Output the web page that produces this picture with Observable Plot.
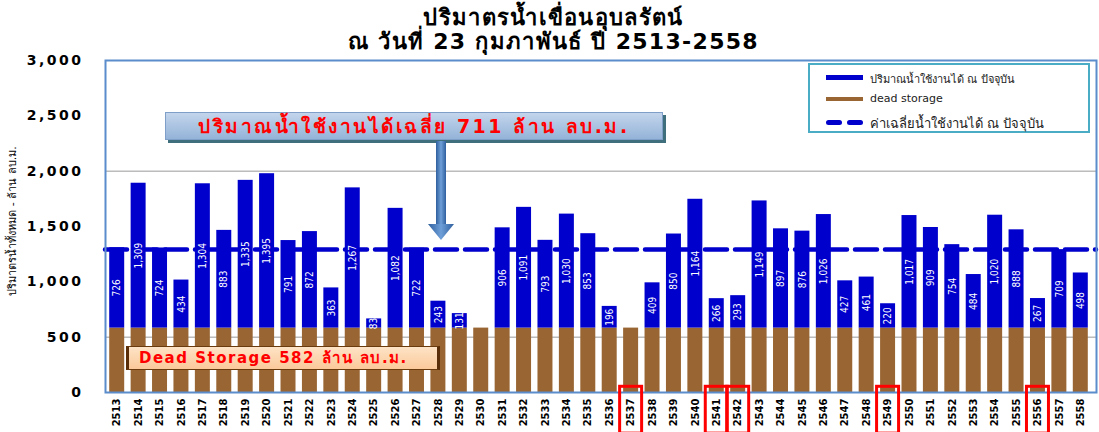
<!DOCTYPE html>
<html>
<head>
<meta charset="utf-8">
<script src="https://cdn.jsdelivr.net/npm/d3@7"></script>
<script src="https://cdn.jsdelivr.net/npm/@observablehq/plot@0.6"></script>
<style>
  body { margin: 0; background: #fff; }
  #wrap { position: relative; width: 1099px; height: 432px; overflow: hidden; font-family: "DejaVu Sans", "Noto Sans", sans-serif; }
  #title { height: 55px; text-align: center; font-weight: bold; font-size: 22px; line-height: 24px; letter-spacing: 1.3px; padding-top: 6px; padding-left: 8px; box-sizing: border-box; color: #000; }
  #chart svg { display: block; overflow: visible; }
  #chart g[aria-label="y-axis tick label"] text { letter-spacing: 2.5px; }
  .ov { position: absolute; }
  #ylabel { left: -78px; top: 212px; width: 180px; text-align: center; font-size: 11px; transform: rotate(-90deg); color: #000; }
  #avgBox { left: 165px; top: 112px; width: 498px; height: 28px; box-sizing: border-box;
            background: linear-gradient(#c3d5ec, #94b3d8); border: 1px solid #7f9fc8;
            box-shadow: 3px 3px 0 #3f6f7c; color: #ff0000; font-weight: bold; font-size: 19px;
            letter-spacing: 2.5px; line-height: 26px; text-align: center; white-space: nowrap; }
  #deadBox { left: 126px; top: 346px; width: 314px; height: 24px; box-sizing: border-box;
             background: linear-gradient(#fde3c6, #fbc99a); border: 1px solid #6b3b10;
             border-left: 3px solid #5a2e08; border-right: 3px solid #5a2e08;
             color: #ff0000; font-weight: bold; font-size: 15px; letter-spacing: 1.5px; line-height: 22px; padding-left: 10px; white-space: nowrap; }
  #legend { left: 808px; top: 63px; width: 282px; height: 70px; box-sizing: border-box;
            border: 2px solid #4bacc6; background: #fff; }
  .lg { position: absolute; left: 60px; font-size: 11px; color: #222; white-space: nowrap; }
  .sw { position: absolute; left: 16px; width: 37px; }
</style>
</head>
<body>
<div id="wrap">
  <div id="title">ปริมาตรน้ำเขื่อนอุบลรัตน์<br>ณ วันที่ 23 กุมภาพันธ์ ปี 2513-2558</div>
  <div id="chart"></div>
  <div class="ov" id="ylabel">ปริมาตรน้ำทั้งหมด - ล้าน ลบ.ม.</div>
  <div class="ov" id="avgBox">ปริมาณน้ำใช้งานได้เฉลี่ย 711 ล้าน ลบ.ม.</div>
  <svg class="ov" style="left:0;top:0" width="1099" height="432">
    <defs>
      <linearGradient id="ag" x1="0" x2="1" y1="0" y2="0">
        <stop offset="0" stop-color="#2f5f9e"/>
        <stop offset="0.5" stop-color="#6f9fd8"/>
        <stop offset="1" stop-color="#2f5f9e"/>
      </linearGradient>
    </defs>
    <rect x="436" y="141" width="10" height="84" fill="url(#ag)"/>
    <polygon points="428,224 454,224 441,240" fill="url(#ag)"/>
  </svg>
  <div class="ov" id="deadBox">Dead Storage 582 ล้าน ลบ.ม.</div>
  <div class="ov" id="legend">
    <div class="sw" style="top:10px;height:5px;background:#0000cc"></div>
    <div class="lg" style="top:5px">ปริมาณน้ำใช้งานได้ ณ ปัจจุบัน</div>
    <div class="sw" style="top:32px;height:4px;background:#996633"></div>
    <div class="lg" style="top:27px">dead storage</div>
    <div class="sw" style="top:55px;height:5px;width:16px;border-radius:3px;background:#0000cc"></div>
    <div class="sw" style="top:55px;left:37px;height:5px;width:16px;border-radius:3px;background:#0000cc"></div>
    <div class="lg" style="top:48px;font-size:13px">ค่าเฉลี่ยน้ำใช้งานได้ ณ ปัจจุบัน</div>
  </div>
</div>
<script>
const years = ["2513","2514","2515","2516","2517","2518","2519","2520","2521","2522",
  "2523","2524","2525","2526","2527","2528","2529","2530","2531","2532",
  "2533","2534","2535","2536","2537","2538","2539","2540","2541","2542",
  "2543","2544","2545","2546","2547","2548","2549","2550","2551","2552",
  "2553","2554","2555","2556","2557","2558"];
const usableVolume = [726,1309,724,434,1304,883,1335,1395,791,872,
  363,1267,83,1082,722,243,131,0,906,1091,
  793,1030,853,196,0,409,850,1164,266,293,
  1149,897,876,1026,427,461,220,1017,909,754,
  484,1020,888,267,709,498];
const deadStorage = 582;
const averageUsable = 711;
const yTicks = [0,500,1000,1500,2000,2500,3000];
const gridLines = [500,2000];
const highlightYears = ["2537","2541","2542","2549","2556"];

const rows = years.map((year, i) => ({year, dead: deadStorage, usable: usableVolume[i], total: deadStorage + usableVolume[i]}));
const withUsable = rows.filter(d => d.usable > 0);
const fmt = d3.format(",");

const chart = Plot.plot({
  width: 1099, height: 377,
  marginLeft: 105, marginRight: 3, marginTop: 5, marginBottom: 40,
  x: {type: "band", domain: years, paddingInner: 0.3, paddingOuter: 0.15, round: false, insetLeft: 1, insetRight: 5, label: null},
  y: {domain: [0, 3000], label: null},
  marks: [
    Plot.ruleY(gridLines, {stroke: "#9a9a9a", strokeWidth: 1}),
    Plot.barY(rows, {x: "year", y1: 0, y2: "dead", fill: "#996633"}),
    Plot.barY(withUsable, {x: "year", y1: "dead", y2: "total", fill: "#0000cc"}),
    Plot.ruleY([deadStorage + averageUsable], {stroke: "#0000cc", strokeWidth: 4.5, strokeDasharray: "22,8", strokeLinecap: "round"}),
    Plot.text(withUsable, {x: "year", y: d => d.dead + d.usable / 2, text: d => fmt(d.usable), rotate: -90,
      fill: "white", fontSize: 10, fontFamily: "'Liberation Sans Narrow', 'DejaVu Sans Condensed', sans-serif"}),
    Plot.axisY({ticks: yTicks, tickSize: 0, tickPadding: 22, tickFormat: fmt, fontSize: 14, fontWeight: "bold", fill: "#000", label: null}),
    Plot.axisX({tickSize: 0, tickPadding: 6, tickRotate: -90, fontSize: 10, fontWeight: "bold", fill: "#000", label: null}),
    Plot.frame({stroke: "#5b8ccc", strokeWidth: 2}),
    Plot.barY(highlightYears, {x: d => d, y1: 20, y2: -340, fill: "none", stroke: "#ff0000", strokeWidth: 3, inset: -3.5})
  ]
});
chart.style.fontFamily = "'DejaVu Sans', sans-serif";
document.getElementById("chart").appendChild(chart);
</script>
</body>
</html>
